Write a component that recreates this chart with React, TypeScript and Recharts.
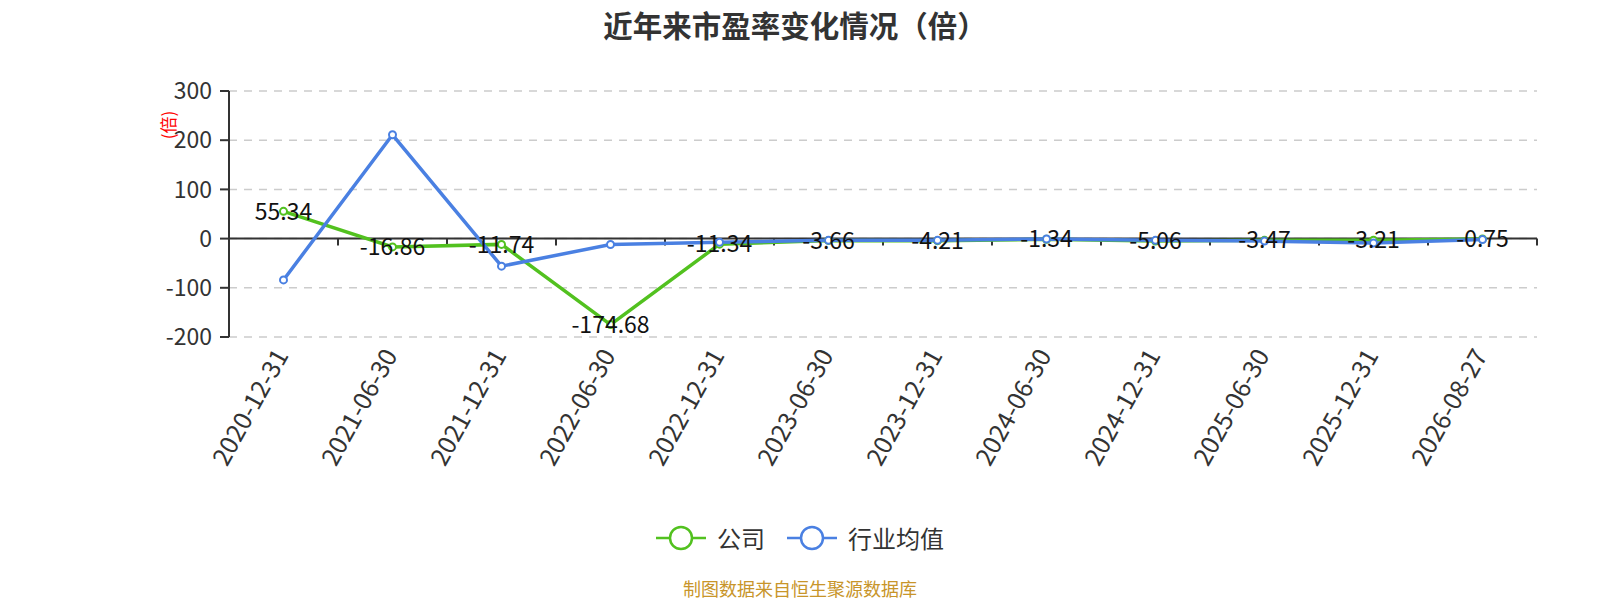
import React from "react";
import {
  LineChart,
  Line,
  XAxis,
  YAxis,
  CartesianGrid,
  ReferenceLine,
  LabelList,
} from "recharts";

const dates = [
  "2020-12-31",
  "2021-06-30",
  "2021-12-31",
  "2022-06-30",
  "2022-12-31",
  "2023-06-30",
  "2023-12-31",
  "2024-06-30",
  "2024-12-31",
  "2025-06-30",
  "2025-12-31",
  "2026-08-27",
];
const companyPE = [55.34, -16.86, -11.74, -174.68, -11.34, -3.66, -4.21, -1.34, -5.06, -3.47, -3.21, -0.75];
const industryPE = [-84, 211, -56, -12, -7.5, -3.5, -3.5, -0.7, -3.5, -5, -9, -2];
const yTicks = [-200, -100, 0, 100, 200, 300];

const GREEN = "#52c11f";
const BLUE = "#4a80e2";
const FONT = "'Noto Sans CJK SC', 'Noto Sans', sans-serif";

const data = dates.map((d, i) => ({ date: d, company: companyPE[i], industry: industryPE[i] }));

function RotatedTick({ x, y, payload }: any) {
  const ax = x - 4;
  const ay = y + 5;
  return (
    <text
      x={ax}
      y={ay}
      transform={`rotate(-61, ${ax}, ${ay})`}
      textAnchor="end"
      dominantBaseline="central"
      fontSize={25}
      fill="#333"
      fontFamily={FONT}
    >
      {payload.value}
    </text>
  );
}

// axis line sitting on y = 0, with ticks between the categories
function ZeroAxis(props: any) {
  const { x1, x2, y1 } = props;
  const n = dates.length;
  const step = (x2 - x1) / n;
  return (
    <g>
      <line x1={x1} x2={x2} y1={y1} y2={y1} stroke="#333" strokeWidth={2} />
      {Array.from({ length: n + 1 }, (_, i) => (
        <line key={i} x1={x1 + i * step} x2={x1 + i * step} y1={y1} y2={y1 + 7} stroke="#333" strokeWidth={2} />
      ))}
    </g>
  );
}

function LegendBox() {
  const items = [
    { name: "公司", color: GREEN },
    { name: "行业均值", color: BLUE },
  ];
  return (
    <div
      style={{
        position: "absolute",
        top: 520,
        left: 0,
        width: 1600,
        display: "flex",
        justifyContent: "center",
        gap: 22,
        fontFamily: FONT,
      }}
    >
      {items.map((it) => (
        <div key={it.name} style={{ display: "flex", alignItems: "center", gap: 11 }}>
          <svg width={50} height={34}>
            <line x1={0} x2={50} y1={17} y2={17} stroke={it.color} strokeWidth={2.5} />
            <circle cx={25} cy={17} r={11} fill="#fff" stroke={it.color} strokeWidth={2.5} />
          </svg>
          <span style={{ fontSize: 24, color: "#333" }}>{it.name}</span>
        </div>
      ))}
    </div>
  );
}

export default function App() {
  return (
    <div style={{ position: "absolute", left: 0, top: 0, width: 1600, height: 600, background: "#fff", fontFamily: FONT }}>
      <LineChart width={1600} height={600} data={data} margin={{ top: 91, right: 63, bottom: 0, left: 0 }}>
        <CartesianGrid vertical={false} stroke="#ccc" strokeDasharray="8 7" strokeWidth={1.5} />
        <XAxis
          dataKey="date"
          scale="band"
          interval={0}
          axisLine={false}
          tickLine={false}
          tick={<RotatedTick />}
          height={263}
        />
        <YAxis
          width={229}
          domain={[-200, 300]}
          ticks={yTicks}
          axisLine={{ stroke: "#333", strokeWidth: 2 }}
          tickLine={{ stroke: "#333", strokeWidth: 2 }}
          tickSize={9}
          tickMargin={8}
          tick={{ fontSize: 23, fill: "#333", fontFamily: FONT }}
          label={({ viewBox }: any) => (
            <text
              x={167}
              y={viewBox.y + 34}
              transform={`rotate(-90, 167, ${viewBox.y + 34})`}
              textAnchor="middle"
              dominantBaseline="central"
              fontSize={17}
              fill="#f00"
              fontFamily={FONT}
            >
              (倍)
            </text>
          )}
        />
        <ReferenceLine y={0} shape={<ZeroAxis />} />
        <Line
          type="linear"
          dataKey="company"
          name="公司"
          stroke={GREEN}
          strokeWidth={3.5}
          dot={{ r: 3.5, fill: "#fff", stroke: GREEN, strokeWidth: 2 }}
          isAnimationActive={false}
        >
          <LabelList dataKey="company" position="center" fontSize={23} fill="#111" fontFamily={FONT} />
        </Line>
        <Line
          type="linear"
          dataKey="industry"
          name="行业均值"
          stroke={BLUE}
          strokeWidth={3.5}
          dot={{ r: 3.5, fill: "#fff", stroke: BLUE, strokeWidth: 2 }}
          isAnimationActive={false}
        />
      </LineChart>
      <div
        style={{
          position: "absolute",
          top: 3,
          left: 0,
          width: 1590,
          textAlign: "center",
          fontSize: 29.5,
          fontWeight: "bold",
          color: "#333",
        }}
      >
        近年来市盈率变化情况（倍）
      </div>
      <LegendBox />
      <div
        style={{
          position: "absolute",
          top: 575,
          left: 0,
          width: 1600,
          textAlign: "center",
          fontSize: 18,
          color: "#c8952a",
        }}
      >
        制图数据来自恒生聚源数据库
      </div>
    </div>
  );
}
